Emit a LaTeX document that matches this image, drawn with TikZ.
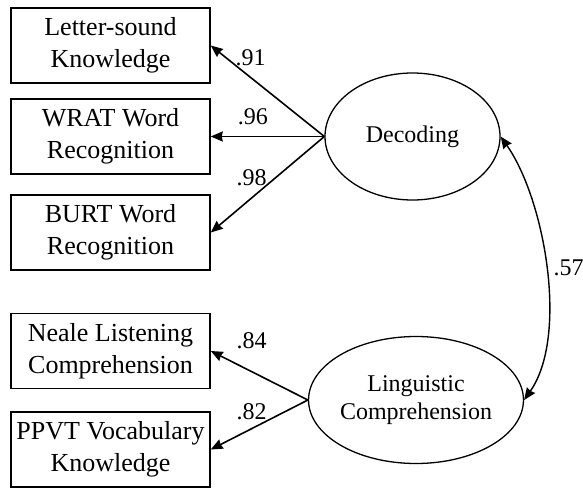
\documentclass[tikz,border=0pt]{standalone}
\usepackage{fontspec}
\setmainfont{Liberation Serif}
\usetikzlibrary{shapes.geometric,arrows.meta,positioning}

\tikzset{
	obs/.style={draw,line width=1.5pt,minimum width=199pt,minimum height=75pt,
		align=center,inner sep=0pt,font=\fontsize{26}{32.5}\selectfont},
	lat/.style={draw,ellipse,line width=1.3pt,minimum width=175pt,minimum height=127pt,
		align=center,inner sep=0pt,font=\fontsize{24}{28}\selectfont},
	coef/.style={font=\fontsize{24}{28}\selectfont,inner sep=2pt}
}

\begin{document}
\begin{tikzpicture}[x=1pt,y=1pt,on grid,>={Stealth[length=12pt,width=10pt,inset=1pt]}]
	\useasboundingbox (0,0) rectangle (583,-490);

	\node[obs] (lsk) at (110.5,-45.5) {Letter-sound\\Knowledge};
	\node[obs] (wrat) [below=91pt of lsk] {WRAT Word\\Recognition};
	\node[obs] (burt) [below=96pt of wrat] {BURT Word\\Recognition};
	\node[obs] (neale) [below=118.5pt of burt] {Neale Listening\\Comprehension};
	\node[obs] (ppvt) [below=98.5pt of neale] {PPVT Vocabulary\\Knowledge};

	\node[lat] (dec) at (412.5,-136.5) {Decoding};
	\node[lat] (ling) at (416,-400) {Linguistic\\Comprehension};


	\path[->,line width=1.6pt]

	(dec.west) edge node[coef,pos=.65,above,yshift=9pt] (c91) {.91} (lsk.east)
	           edge node[coef,pos=.63,above,yshift=9pt] (c96) {.96} (wrat.east)
	           edge node[coef,pos=.64,above,yshift=9pt] (c98) {.98} (burt.east)

	(ling.west) edge node[coef,pos=.58,above,yshift=20pt] (c84) {.84} (neale.east)
	            edge node[coef,pos=.58,above,yshift=6pt] (c82) {.82} (ppvt.east);

	\draw[<->,line width=1.4pt] (dec.east) to[out=-55,in=55,looseness=.75]
		node[coef,right,xshift=5pt] (c57) {.57} (ling.east);

\end{tikzpicture}
\end{document}
